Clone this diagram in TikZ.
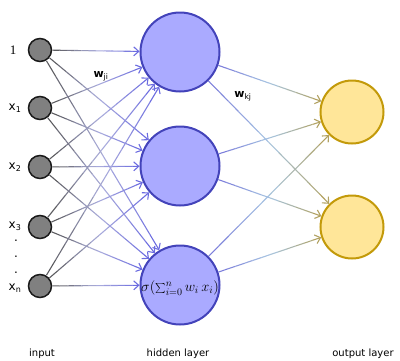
\documentclass[tikz,border=0pt]{standalone}
\usepackage{fontspec}
\setmainfont{DejaVu Sans}
\newfontfamily\serifone{Liberation Serif}
\usetikzlibrary{calc,arrows.meta}
\definecolor{inFill}{HTML}{808080}
\definecolor{inLine}{HTML}{1A1A1A}
\definecolor{hidFill}{HTML}{AAAAFF}
\definecolor{hidLine}{HTML}{4343BA}
\definecolor{outFill}{HTML}{FFE699}
\definecolor{outLine}{HTML}{C39A0A}
\definecolor{gA}{HTML}{555555}
\definecolor{gB}{HTML}{ACAEDC}
\definecolor{gC}{HTML}{6C6CE0}
\definecolor{bA}{HTML}{7A7ADA}
\definecolor{bB}{HTML}{A8C6E2}
\definecolor{bC}{HTML}{B2A262}
\tikzset{
  innode/.style={circle, draw=inLine, fill=inFill, line width=1.5pt, minimum size=23pt, inner sep=0pt},
  hidnode/.style={circle, draw=hidLine, fill=hidFill, line width=2pt, minimum size=79pt, inner sep=0pt},
  outnode/.style={circle, draw=outLine, fill=outFill, line width=2pt, minimum size=63pt, inner sep=0pt},
  edgeln/.style={line width=1.1pt},
  lbl/.style={font=\fontsize{10}{12}\selectfont, inner sep=0pt},
  wlbl/.style={font=\fontsize{11}{13}\selectfont, inner sep=0pt},
  inlbl/.style={font=\fontsize{12}{14}\selectfont, inner sep=0pt},
}
\newcommand\gradedge[7]{%
  \coordinate (ge-p) at ($(#1.center)!#2!(#3.center)$);
  \coordinate (ge-q) at ($(#3.center)!#4!(#1.center)$);
  \foreach \k in {1,...,11}{%
    \pgfmathsetmacro\tm{(\k-0.5)/12}%
    \ifdim\tm pt<0.5pt
      \pgfmathtruncatemacro\pc{200*\tm}\edef\ec{#6!\pc!#5}%
    \else
      \pgfmathtruncatemacro\pc{200*(\tm-0.5)}\edef\ec{#7!\pc!#6}%
    \fi
    \draw[edgeln, draw=\ec] ($(ge-p)!{(\k-1)/12}!(ge-q)$) -- ($(ge-p)!{\k/12}!(ge-q)$);
  }%
  \draw[edgeln, draw=#7, -{Straight Barb[length=5pt,width=9pt]}] ($(ge-p)!{11/12}!(ge-q)$) -- (ge-q);
}
\begin{document}
\begin{tikzpicture}[x=1pt,y=-1pt]
\useasboundingbox (0,0) rectangle (400,360);
% input nodes
\node[innode] (i0) at (40,50) {};
\node[innode] (i1) at (40,108) {};
\node[innode] (i2) at (40,167) {};
\node[innode] (i3) at (40,227) {};
\node[innode] (i4) at (40,286) {};
% hidden nodes
\node[hidnode] (h1) at (180,52) {};
\node[hidnode] (h2) at (180,166) {};
\node[hidnode] (h3) at (180,285) {};
% output nodes
\node[outnode] (o1) at (352,112) {};
\node[outnode] (o2) at (352,227) {};
% edges input -> hidden
\foreach \i in {0,...,4}{
  \foreach \h in {1,2,3}{
    \gradedge{i\i}{12.5pt}{h\h}{40.5pt}{gA}{gB}{gC}
  }
}
% edges hidden -> output
\foreach \h in {1,2,3}{
  \foreach \o in {1,2}{
    \gradedge{h\h}{40.5pt}{o\o}{32.5pt}{bA}{bB}{bC}
  }
}
% formula
\node[inner sep=0pt, font=\fontsize{14}{16}\selectfont] (f) at (h3.center) [yshift=-3pt] {$\sigma(\sum_{i=0}^{n} w_i\, x_i)$};
% input labels
\node[inlbl, font=\serifone\fontsize{13}{15}\selectfont] (l0) at (13,50) {1};
\node[inlbl] (l1) at (15,108) {x\textsubscript{1}};
\node[inlbl] (l2) at (15,167) {x\textsubscript{2}};
\node[inlbl] (l3) at (15,226) {x\textsubscript{3}};
\node[inlbl] (d1) at (16,241) {.};
\node[inlbl] (d2) at (16,257) {.};
\node[inlbl] (d3) at (16,273) {.};
\node[inlbl] (l4) at (15,288) {x\textsubscript{n}};
% weight labels
\node[wlbl] (wji) at (101,76) {\textbf{w}\textsubscript{ji}};
\node[wlbl] (wkj) at (243,96) {\textbf{w}\textsubscript{kj}};
% layer labels
\node[lbl] (tin) at (42,354) {input};
\node[lbl] (thid) at (178,354) {hidden layer};
\node[lbl] (tout) at (363,354) {output layer};
\end{tikzpicture}
\end{document}
